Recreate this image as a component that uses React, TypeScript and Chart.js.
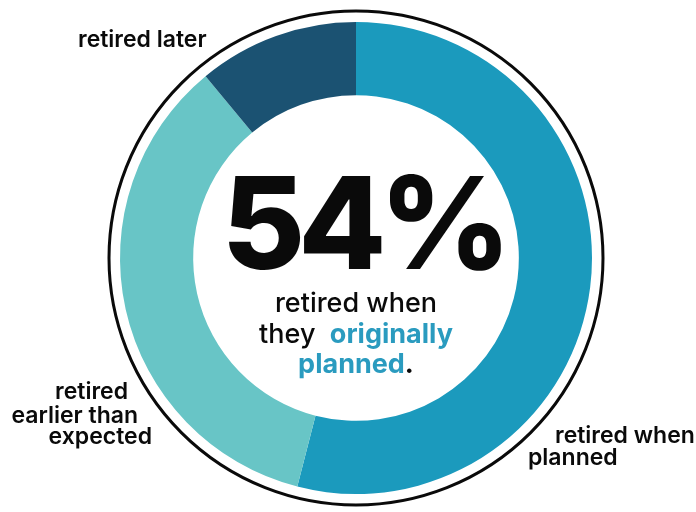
import React, { useEffect, useRef } from "react";
import { Chart, registerables } from "chart.js";

Chart.register(...registerables);

const categories = ["retired when planned", "retired earlier than expected", "retired later"];
const values = [54, 35, 11];
const segmentColors = ["#1b9abd", "#68c5c6", "#1b5272"];
const headline = "54%";
const labelLater = ["retired later"];
const labelEarlier = ["retired", "earlier than", "expected"];
const labelPlanned = ["retired when", "planned"];

const FONT = "Inter, 'Noto Sans', sans-serif";
const ACCENT = "#2a9bbf";

const overlayPlugin = {
  id: "overlay",
  afterDraw(chart: any) {
    const meta = chart.getDatasetMeta(0);
    const arc = meta.data[0];
    if (!arc) return;
    const cx = arc.x;
    const cy = arc.y;
    const R = arc.outerRadius;
    const ctx = chart.ctx;
    ctx.save();

    // outer black ring
    ctx.beginPath();
    ctx.arc(cx, cy, R + 11, 0, Math.PI * 2);
    ctx.lineWidth = 3;
    ctx.strokeStyle = "#0a0a0a";
    ctx.stroke();

    // headline
    ctx.fillStyle = "#0a0a0a";
    ctx.textBaseline = "alphabetic";
    ctx.textAlign = "center";
    ctx.font = `800 128px ${FONT}`;
    (ctx as any).letterSpacing = "-7px";
    ctx.fillText(headline, cx + 7, cy + 11);
    (ctx as any).letterSpacing = "0px";

    // center sub text
    const SUB = 27;
    ctx.font = `500 ${SUB}px ${FONT}`;
    ctx.fillText("retired when", cx, cy + 54);

    const drawMixed = (parts: [string, string, string][], y: number) => {
      let total = 0;
      const widths = parts.map(([t, , w]) => {
        ctx.font = `${w} ${SUB}px ${FONT}`;
        const m = ctx.measureText(t).width;
        total += m;
        return m;
      });
      let x = cx - total / 2;
      ctx.textAlign = "left";
      parts.forEach(([t, c, w], i) => {
        ctx.font = `${w} ${SUB}px ${FONT}`;
        ctx.fillStyle = c;
        ctx.fillText(t, x, y);
        x += widths[i];
      });
      ctx.textAlign = "center";
    };
    drawMixed(
      [
        ["they  ", "#0a0a0a", "500"],
        ["originally", ACCENT, "700"],
      ],
      cy + 85
    );
    drawMixed(
      [
        ["planned", ACCENT, "700"],
        [".", "#0a0a0a", "700"],
      ],
      cy + 115
    );

    // outside labels
    ctx.fillStyle = "#0a0a0a";
    ctx.font = `600 23px ${FONT}`;
    ctx.textAlign = "left";
    ctx.fillText(labelLater[0], cx - 278, cy - 211);

    ctx.textAlign = "right";
    const earlierRight = [128, 138, 152];
    const earlierBase = [399, 423, 444];
    labelEarlier.forEach((t, i) => {
      ctx.fillText(t, cx - 356 + earlierRight[i], cy - 258 + earlierBase[i]);
    });

    ctx.textAlign = "left";
    const plannedLeft = [555, 528];
    const plannedBase = [443, 465];
    labelPlanned.forEach((t, i) => {
      ctx.fillText(t, cx - 356 + plannedLeft[i], cy - 258 + plannedBase[i]);
    });

    ctx.restore();
  },
};

export default function App() {
  const canvasRef = useRef<HTMLCanvasElement | null>(null);

  useEffect(() => {
    document.body.style.margin = "0";
    const canvas = canvasRef.current;
    if (!canvas) return;
    const chart = new Chart(canvas, {
      type: "doughnut",
      data: {
        labels: categories,
        datasets: [
          {
            data: values,
            backgroundColor: segmentColors,
            borderWidth: 0,
            hoverOffset: 0,
          },
        ],
      },
      options: {
        animation: false,
        responsive: false,
        maintainAspectRatio: false,
        cutout: "69%",
        layout: { padding: { left: 120, right: 104, top: 22, bottom: 18 } },
        plugins: {
          legend: { display: false },
          tooltip: { enabled: false },
        },
      },
      plugins: [overlayPlugin],
    });
    return () => chart.destroy();
  }, []);

  return (
    <div style={{ width: 696, height: 512, background: "#ffffff", position: "relative" }}>
      <canvas ref={canvasRef} width={696} height={512} style={{ width: 696, height: 512, display: "block" }} />
    </div>
  );
}
